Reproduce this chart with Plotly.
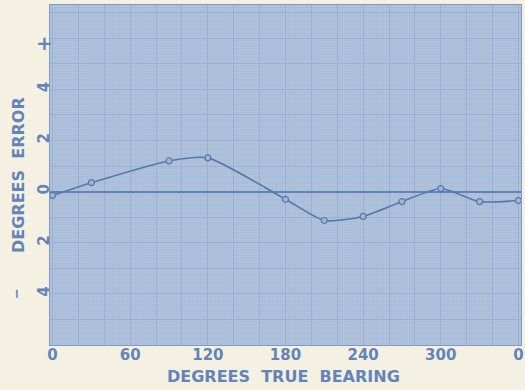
import plotly.graph_objects as go

bearing = [0, 30, 90, 120, 180, 210, 240, 270, 300, 330, 360]
error = [-0.15, 0.35, 1.2, 1.32, -0.3, -1.13, -0.97, -0.39, 0.12, -0.39, -0.35]

x_ticks = list(range(0, 361, 20))
x_labels = {0: "0", 60: "60", 120: "120", 180: "180", 240: "240", 300: "300", 360: "0"}
y_ticks = list(range(-6, 8))
y_labels = {-4: "4", -2: "2", 0: "0", 2: "2", 4: "4"}

BLUE = "#5577ad"
TXT = "#6284ba"
PAPER = "#f4f1e2"
PLOT = "#b0c2dc"
FONT = "DejaVu Sans"

fig = go.Figure()
fig.add_trace(go.Scatter(
    x=bearing, y=error, mode="lines+markers",
    line=dict(color=BLUE, width=1.6, shape="spline", smoothing=0.6),
    marker=dict(size=6, color="#a0b5d8", line=dict(color=BLUE, width=1.2)),
    showlegend=False,
))

fig.update_layout(
    width=525, height=390,
    margin=dict(l=50, r=4, t=5, b=45),
    paper_bgcolor=PAPER, plot_bgcolor=PLOT,
    font=dict(family=FONT, color=TXT),
    xaxis=dict(
        range=[-2, 362], automargin=False,
        tickvals=x_ticks,
        ticktext=["<b>%s</b>" % x_labels[v] if v in x_labels else "" for v in x_ticks],
        tickfont=dict(size=15, color=TXT, family=FONT),
        ticklabelstandoff=-4,
        showgrid=True, gridcolor="#9ab0d2", gridwidth=1,
        minor=dict(dtick=2, showgrid=True, gridcolor="#aabdd9", gridwidth=1),
        zeroline=False, ticks="", showline=True, linecolor="#8099c2", mirror=True,
    ),
    yaxis=dict(
        range=[-6.0, 7.3], automargin=False,
        tickvals=y_ticks,
        ticktext=["<b>%s</b>" % y_labels[v] if v in y_labels else "" for v in y_ticks],
        tickangle=-90,
        tickfont=dict(size=15, color=TXT, family=FONT),
        ticklabelstandoff=-6,
        showgrid=True, gridcolor="#9ab0d2", gridwidth=1,
        minor=dict(dtick=0.1, showgrid=True, gridcolor="#aabdd9", gridwidth=1),
        zeroline=True, zerolinecolor="#6382b5", zerolinewidth=1.5,
        ticks="", showline=True, linecolor="#8099c2", mirror=True,
    ),
)

fig.add_annotation(text="<b>DEGREES  TRUE  BEARING</b>", xref="paper", yref="paper",
                   x=0.495, y=-0.092, xanchor="center", yanchor="middle",
                   showarrow=False, font=dict(size=16, color=TXT, family=FONT))
fig.add_annotation(text="<b>DEGREES  ERROR</b>", xref="paper", yref="paper",
                   x=-0.068, y=0.5, xanchor="center", yanchor="middle",
                   textangle=-90, showarrow=False,
                   font=dict(size=16, color=TXT, family=FONT))
fig.add_annotation(text="<b>+</b>", xref="paper", yref="y", x=-0.012, y=5.8,
                   xanchor="center", yanchor="middle", showarrow=False,
                   font=dict(size=20, color=TXT, family=FONT))
fig.add_annotation(text="<b>−</b>", xref="paper", yref="y", x=-0.07, y=-4,
                   xanchor="center", yanchor="middle", textangle=-90, showarrow=False,
                   font=dict(size=13, color=TXT, family=FONT))

fig.write_html("out.html", config={"displayModeBar": False},
               post_script="document.body.style.margin='0px';")
